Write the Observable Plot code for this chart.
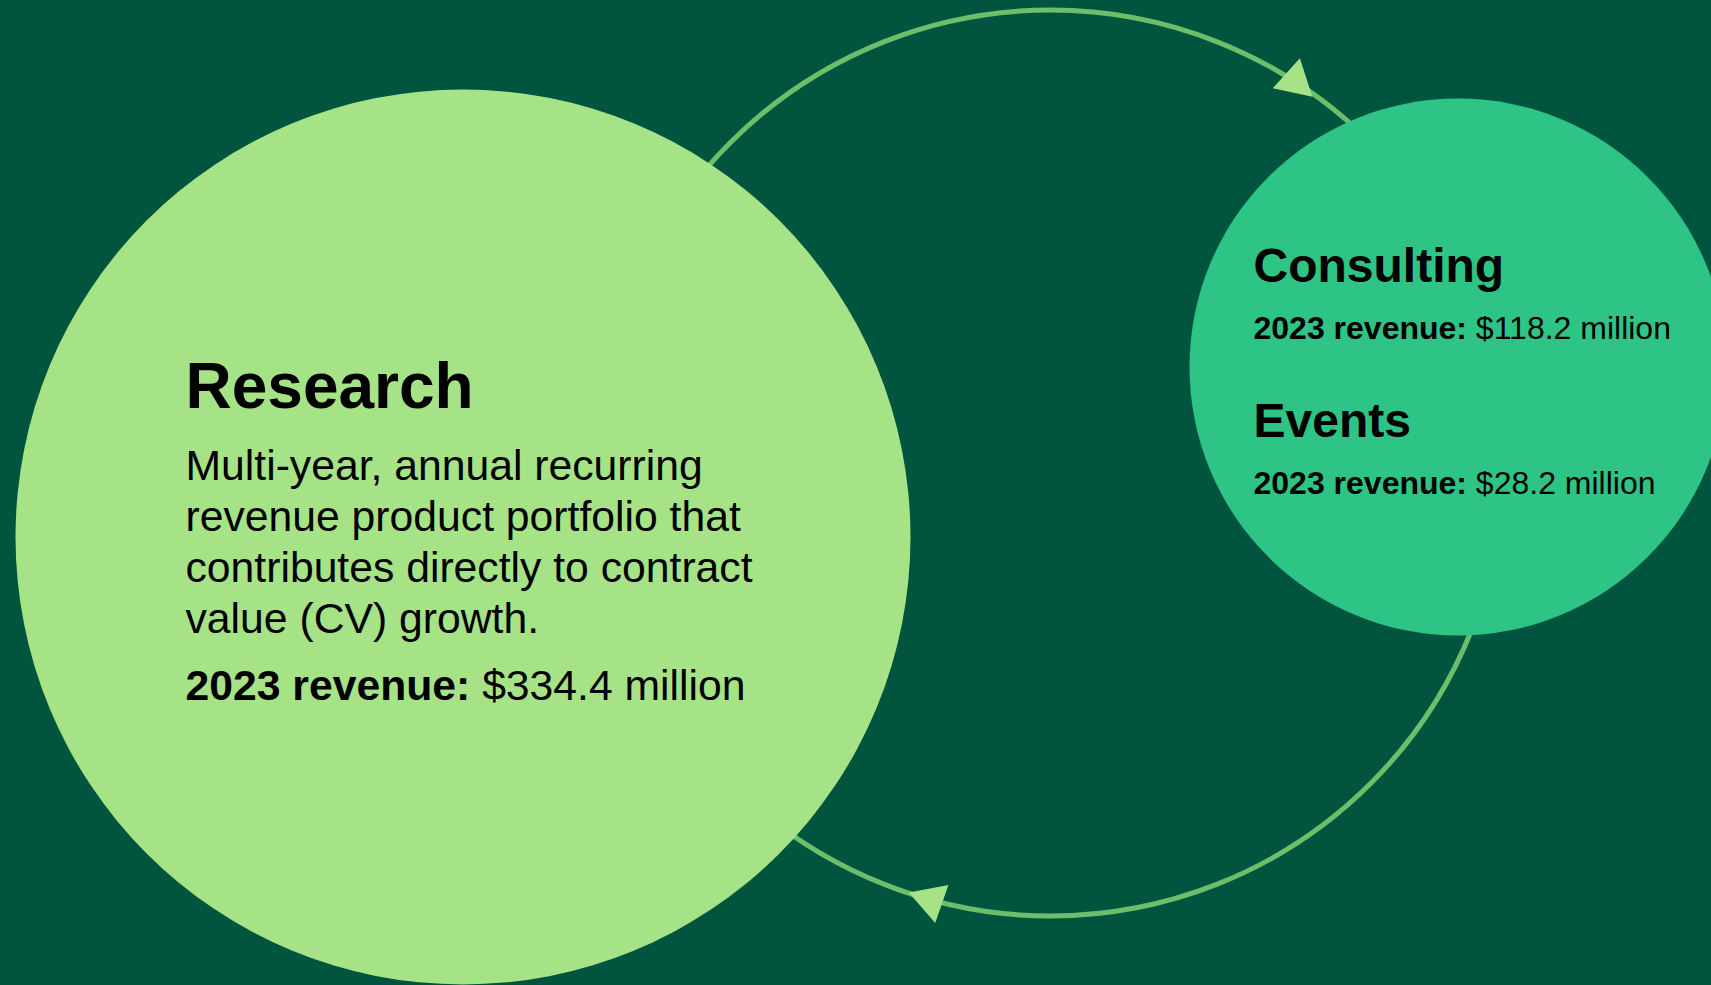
<!DOCTYPE html>
<html>
<head>
<meta charset="utf-8">
<script src="https://cdn.jsdelivr.net/npm/d3@7"></script>
<script src="https://cdn.jsdelivr.net/npm/@observablehq/plot@0.6"></script>
<style>
  html, body { margin: 0; padding: 0; background: #01553F; overflow: hidden; }
  #chart svg { display: block; }
</style>
</head>
<body>
<div id="chart"></div>
<script>
// ---- Data ----
const segments = ["Research", "Consulting", "Events"];
const revenue2023 = [334.4, 118.2, 28.2]; // $ millions
const descriptions = [
  "Multi-year, annual recurring\nrevenue product portfolio that\ncontributes directly to contract\nvalue (CV) growth.",
  "",
  ""
];
const revenueLabel = "2023 revenue:";
const formatRevenue = v => `$${v.toFixed(1)} million`;

// ---- Layout (positions / sizes / styles) ----
const W = 1711, H = 985;
const colors = { bg: "#01553F", research: "#A6E386", other: "#2EC486", ring: "#6CBF6A", arrow: "#A6E386" };
const bubbles = [
  { x: 462.5, y: 536.5, r: 447.5, fill: colors.research },
  { x: 1457.5, y: 366.5, r: 268.5, fill: colors.other }
];
const ring = { x: 1050, y: 462.5, r: 453 };
const arrows = [
  { x: 1294.5, y: 80.6, rotate: 132 },
  { x: 930.3, y: 899.7, rotate: -71 }
];
// per-segment text placement
const textLayout = [
  { x: 185, titleY: 407, titleSize: 64, bodyY: 632, bodySize: 42.7, bodyLine: 51, revY: 699, revSize: 42.7 },
  { x: 1253, titleY: 281, titleSize: 48, revY: 338, revSize: 32 },
  { x: 1253, titleY: 436.5, titleSize: 48, revY: 493, revSize: 32 }
];

const titles = segments.map((s, i) => ({ text: s, x: textLayout[i].x, y: textLayout[i].titleY, size: textLayout[i].titleSize }));
const bodies = descriptions.map((d, i) => ({ text: d, x: textLayout[i].x, y: textLayout[i].bodyY, size: textLayout[i].bodySize, line: textLayout[i].bodyLine })).filter(d => d.text);
const revs = revenue2023.map((v, i) => ({ text: `${revenueLabel} ${formatRevenue(v)}`, x: textLayout[i].x, y: textLayout[i].revY, size: textLayout[i].revSize }));

const font = "'Liberation Sans', Arial, Helvetica, sans-serif";

const chart = Plot.plot({
  width: W,
  height: H,
  margin: 0,
  style: { background: colors.bg, fontFamily: font, color: "#000" },
  x: { domain: [0, W], range: [0, W], axis: null },
  y: { domain: [0, H], range: [0, H], axis: null },
  marks: [
    Plot.dot([ring], { x: "x", y: "y", r: ring.r, fill: "none", stroke: colors.ring, strokeWidth: 5 }),
    Plot.dot(arrows, { x: "x", y: "y", r: 15, symbol: "triangle", fill: colors.arrow, stroke: "none", rotate: "rotate" }),
    ...bubbles.map(b => Plot.dot([b], { x: "x", y: "y", r: b.r, fill: b.fill, stroke: "none" })),
    ...titles.map(t => Plot.text([t], { x: "x", y: "y", text: "text", fontSize: t.size, fontWeight: "bold", textAnchor: "start", lineAnchor: "bottom", fill: "#000" })),
    ...bodies.map(t => Plot.text([t], { x: "x", y: "y", text: "text", fontSize: t.size, fontWeight: "normal", textAnchor: "start", lineAnchor: "bottom", lineHeight: t.line / t.size, fill: "#000" })),
    ...revs.map(t => Plot.text([t], { x: "x", y: "y", text: "text", fontSize: t.size, fontWeight: "normal", textAnchor: "start", lineAnchor: "bottom", fill: "#000" }))
  ]
});

document.getElementById("chart").appendChild(chart);

// Split revenue lines into bold label + regular value
d3.select(chart).selectAll("text").each(function () {
  const el = this;
  const t = el.textContent;
  if (t.startsWith(revenueLabel) && el.querySelectorAll("tspan").length === 0) {
    const rest = t.slice(revenueLabel.length);
    el.textContent = "";
    const s = d3.select(el);
    s.append("tspan").attr("font-weight", "bold").text(revenueLabel);
    s.append("tspan").attr("font-weight", "normal").text(rest.replace(/^ /, "\u00a0"));
  }
});
</script>
</body>
</html>
